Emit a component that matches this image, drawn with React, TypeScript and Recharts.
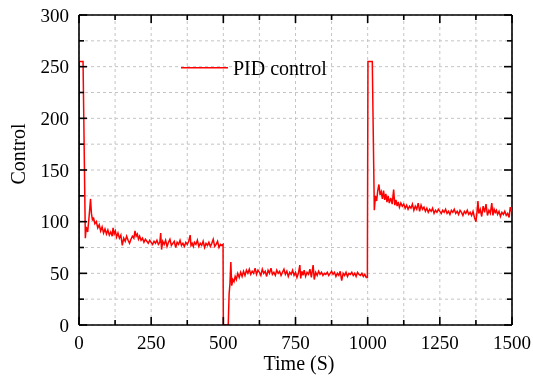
import React from 'react';
import { LineChart, Line, XAxis, YAxis, CartesianGrid, ReferenceLine, Customized } from 'recharts';

const times: number[] = [
  0, 1, 14, 22, 25, 30, 35, 40, 43, 47, 50, 55, 60, 65, 70, 75, 80, 85, 90, 95,
  100, 105, 110, 115, 118, 122, 126, 130, 135, 140, 145, 150, 155, 160, 165, 170, 175, 180, 185, 190,
  194, 198, 202, 206, 210, 215, 220, 225, 230, 235, 240, 245, 250, 255, 260, 265, 270, 275, 280, 283,
  286, 290, 295, 300, 305, 310, 315, 320, 325, 330, 335, 340, 345, 350, 355, 360, 365, 370, 375, 380,
  385, 388, 392, 396, 400, 405, 410, 415, 420, 425, 430, 435, 440, 445, 450, 455, 460, 465, 470, 475,
  480, 485, 490, 495, 499, 500,
  517, 520, 523, 526, 529, 533, 537, 541, 545, 550, 555, 560, 565, 570, 575, 580, 585, 590, 595, 600,
  605, 610, 615, 620, 625, 630, 635, 640, 645, 650, 655, 660, 665, 670, 675, 680, 685, 690, 695, 700,
  705, 710, 715, 720, 725, 730, 735, 740, 745, 750, 755, 760, 765, 768, 772, 776, 780, 785, 790, 795,
  800, 805, 811, 815, 820, 825, 830, 835, 840, 845, 850, 855, 860, 865, 870, 875, 880, 885, 890, 895,
  900, 905, 910, 915, 920, 925, 930, 935, 940, 945, 950, 955, 960, 965, 970, 975, 980, 985, 990, 995,
  999, 1001,
  1016, 1023, 1027, 1031, 1035, 1039, 1043, 1047, 1051, 1055, 1059, 1063, 1067, 1071, 1075, 1080, 1085, 1090, 1094, 1098,
  1102, 1106, 1110, 1115, 1120, 1125, 1130, 1135, 1140, 1145, 1150, 1155, 1160, 1165, 1170, 1175, 1180, 1185, 1190, 1195,
  1200, 1205, 1210, 1215, 1220, 1225, 1230, 1235, 1240, 1245, 1250, 1255, 1260, 1265, 1270, 1275, 1280, 1285, 1290, 1295,
  1300, 1305, 1310, 1315, 1320, 1325, 1330, 1335, 1340, 1345, 1350, 1355, 1360, 1365, 1370, 1375, 1378, 1382, 1385, 1390,
  1395, 1400, 1405, 1410, 1415, 1420, 1425, 1430, 1434, 1438, 1442, 1446, 1450, 1455, 1460, 1465, 1470, 1475, 1480, 1485,
  1490, 1494, 1497, 1500,
];

const control: number[] = [
  0, 255, 255, 84, 95, 90, 105, 122, 108, 101, 104, 98, 100, 94, 97, 91, 95, 89, 93, 88,
  92, 87, 90, 86, 94, 88, 91, 85, 89, 84, 87, 77, 84, 81, 86, 82, 79, 83, 86, 84,
  91, 86, 88, 83, 86, 82, 84, 80, 83, 81, 79, 82, 80, 78, 81, 79, 82, 78, 80, 89,
  73, 81, 78, 82, 76, 80, 83, 77, 79, 81, 75, 80, 78, 82, 77, 79, 76, 80, 78, 81,
  87, 77, 79, 76, 80, 78, 82, 76, 79, 77, 81, 75, 79, 77, 80, 76, 79, 83, 76, 78,
  81, 75, 78, 77, 78, 0,
  0, 30, 40, 61, 38, 44, 42, 47, 44, 50, 46, 51, 47, 52, 48, 53, 50, 54, 49, 52,
  50, 55, 49, 53, 51, 48, 54, 50, 52, 47, 53, 50, 55, 49, 51, 48, 53, 50, 52, 48,
  51, 54, 49, 52, 47, 51, 49, 53, 48, 51, 46, 50, 58, 45, 52, 48, 53, 47, 51, 49,
  54, 46, 58, 44, 51, 48, 52, 49, 51, 48, 50, 49, 51, 48, 50, 52, 49, 51, 47, 50,
  48, 52, 43, 50, 48, 51, 47, 50, 49, 51, 48, 50, 47, 51, 49, 48, 50, 47, 49, 46,
  46, 255,
  255, 111, 125, 120, 130, 136, 126, 129, 122, 130, 121, 127, 119, 125, 118, 123, 117, 131, 116, 121,
  115, 119, 114, 118, 115, 117, 113, 116, 112, 115, 113, 117, 111, 115, 112, 118, 110, 116, 112, 114,
  110, 113, 109, 112, 110, 113, 108, 111, 109, 112, 110, 108, 111, 109, 112, 108, 110, 107, 111, 109,
  112, 108, 110, 107, 111, 109, 106, 110, 108, 111, 107, 109, 106, 110, 104, 100, 107, 120, 108, 112,
  105, 115, 109, 117, 106, 111, 108, 118, 106, 112, 109, 111, 107, 110, 105, 109, 107, 110, 106, 108,
  104, 114, 110, 114,
];

const xTicks: number[] = [0, 125, 250, 375, 500, 625, 750, 875, 1000, 1125, 1250, 1375, 1500];
const yTicks: number[] = [0, 25, 50, 75, 100, 125, 150, 175, 200, 225, 250, 275, 300];

const data = times.map((t, i) => ({ t, control: control[i] }));

const FONT = '"Liberation Serif", "Times New Roman", serif';
const PLOT_W = 433;
const PLOT_H = 310;

const XTick = (props: any) => {
  const { x, y, payload } = props;
  const v = payload.value;
  const major = v % 250 === 0;
  const len = major ? 8 : 5;
  return (
    <g>
      <line x1={x} y1={y} x2={x} y2={y - len} stroke="#000" strokeWidth={1.6} />
      <line x1={x} y1={y - PLOT_H} x2={x} y2={y - PLOT_H + len} stroke="#000" strokeWidth={1.6} />
      {major && (
        <text x={x} y={y + 24} textAnchor="middle" fontSize={19} fontFamily={FONT} fill="#000">
          {v}
        </text>
      )}
    </g>
  );
};

const YTick = (props: any) => {
  const { x, y, payload } = props;
  const v = payload.value;
  const major = v % 50 === 0;
  const len = major ? 8 : 5;
  return (
    <g>
      <line x1={x} y1={y} x2={x + len} y2={y} stroke="#000" strokeWidth={1.6} />
      <line x1={x + PLOT_W} y1={y} x2={x + PLOT_W - len} y2={y} stroke="#000" strokeWidth={1.6} />
      {major && (
        <text x={x - 10} y={y + 6.5} textAnchor="end" fontSize={19} fontFamily={FONT} fill="#000">
          {v}
        </text>
      )}
    </g>
  );
};

const Decor = () => (
  <g>
    <line x1={181} y1={67.7} x2={228} y2={67.7} stroke="#ff0000" strokeWidth={1.5} />
    <text x={233} y={74.5} fontSize={20} fontFamily={FONT} fill="#000">PID control</text>
    <text x={299} y={370} textAnchor="middle" fontSize={20} fontFamily={FONT} fill="#000">Time (S)</text>
    <text
      x={25}
      y={154}
      textAnchor="middle"
      fontSize={20}
      fontFamily={FONT}
      fill="#000"
      transform="rotate(-90 25 154)"
    >
      Control
    </text>
  </g>
);

export default function App() {
  return (
    <div style={{ position: 'fixed', left: 0, top: 0, width: 533, height: 378 }}>
      <LineChart
        width={533}
        height={378}
        data={data}
        margin={{ top: 15, right: 21, bottom: 0, left: 0 }}
      >
        <CartesianGrid stroke="#c4c4c4" strokeDasharray="3 3" strokeWidth={1} />
        <XAxis
          dataKey="t"
          type="number"
          domain={[0, 1500]}
          ticks={xTicks}
          interval={0}
          height={53}
          tickSize={0}
          tickMargin={0}
          tick={<XTick />}
          axisLine={{ stroke: '#000', strokeWidth: 1.6 }}
          tickLine={false}
          allowDataOverflow
        />
        <YAxis
          type="number"
          domain={[0, 300]}
          ticks={yTicks}
          interval={0}
          width={79}
          tickSize={0}
          tickMargin={0}
          tick={<YTick />}
          axisLine={{ stroke: '#000', strokeWidth: 1.6 }}
          tickLine={false}
          allowDataOverflow
        />
        <ReferenceLine y={300} stroke="#000" strokeWidth={1.6} />
        <ReferenceLine x={1500} stroke="#000" strokeWidth={1.6} />
        <Line
          type="linear"
          dataKey="control"
          stroke="#ff0000"
          strokeWidth={1.5}
          dot={false}
          isAnimationActive={false}
        />
        <Customized component={Decor} />
      </LineChart>
    </div>
  );
}
